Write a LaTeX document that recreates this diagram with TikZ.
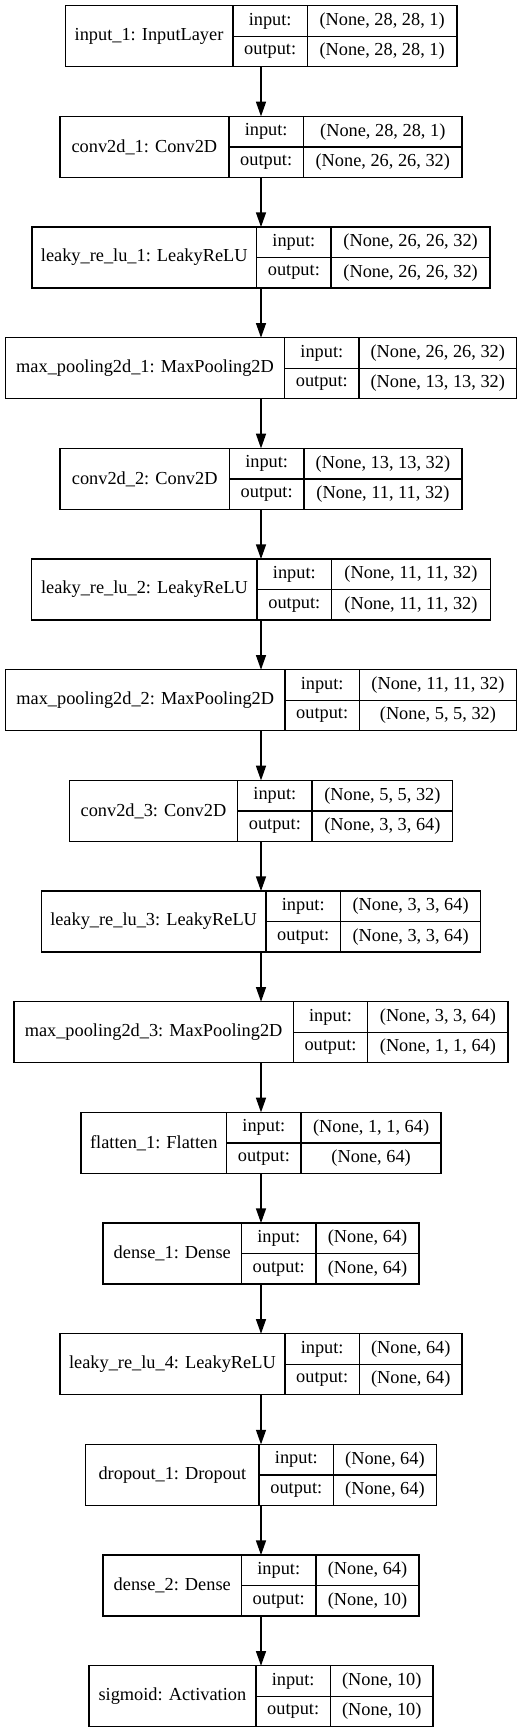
\documentclass[tikz,border=0pt]{standalone}
\usepackage{fontspec}
\setmainfont{Liberation Serif}
\usetikzlibrary{arrows.meta,positioning}
\tikzset{
  cell/.style={rectangle, draw=black, line width=1pt, inner sep=0pt, outer sep=0pt,
               align=center, font=\fontsize{13.75}{16}\selectfont},
  frame/.style={rectangle, inner sep=0pt, outer sep=0pt, minimum height=45.75pt},
  fl/.style={-{Triangle[length=11pt,width=7.5pt]}, draw=black, line width=1pt}
}
% one layer: id, centre y (px), name, name width, shape width, input, output
\newcommand{\layer}[7]{%
  \node[frame, minimum width={(#4+74.5+#5)*0.75pt}] (#1) at (261,#2) {};
  \node[cell, anchor=west, minimum width={#4*0.75pt}, minimum height=45.75pt] (#1n) at (#1.west) {#3};
  \node[cell, anchor=south west, minimum width=55.9pt, minimum height=22.875pt] (#1i) at (#1n.east) {input:};
  \node[cell, anchor=north west, minimum width=55.9pt, minimum height=22.875pt] (#1o) at (#1n.east) {output:};
  \node[cell, anchor=west, minimum width={#5*0.75pt}, minimum height=22.875pt] (#1is) at (#1i.east) {#6};
  \node[cell, anchor=west, minimum width={#5*0.75pt}, minimum height=22.875pt] (#1os) at (#1o.east) {#7};
}

\begin{document}
\begin{tikzpicture}[x=0.75pt, y=-0.75pt]
  \useasboundingbox (0,0) rectangle (523,1733);

  \layer{inp}{36.2}{input\_1: InputLayer}{167.7}{149.4}{(None, 28, 28, 1)}{(None, 28, 28, 1)}
  \layer{conva}{146.87}{conv2d\_1: Conv2D}{169}{158.7}{(None, 28, 28, 1)}{(None, 26, 26, 32)}
  \layer{lrelua}{257.54}{leaky\_re\_lu\_1: LeakyReLU}{224.7}{159}{(None, 26, 26, 32)}{(None, 26, 26, 32)}
  \layer{poola}{368.21}{max\_pooling2d\_1: MaxPooling2D}{279}{157.4}{(None, 26, 26, 32)}{(None, 13, 13, 32)}
  \layer{convb}{478.88}{conv2d\_2: Conv2D}{169.3}{158}{(None, 13, 13, 32)}{(None, 11, 11, 32)}
  \layer{lrelub}{589.55}{leaky\_re\_lu\_2: LeakyReLU}{225.3}{158.7}{(None, 11, 11, 32)}{(None, 11, 11, 32)}
  \layer{poolb}{700.22}{max\_pooling2d\_2: MaxPooling2D}{279.3}{157}{(None, 11, 11, 32)}{(None, 5, 5, 32)}
  \layer{convc}{810.89}{conv2d\_3: Conv2D}{168.3}{140.6}{(None, 5, 5, 32)}{(None, 3, 3, 64)}
  \layer{lreluc}{921.56}{leaky\_re\_lu\_3: LeakyReLU}{224.7}{140.3}{(None, 3, 3, 64)}{(None, 3, 3, 64)}
  \layer{poolc}{1032.23}{max\_pooling2d\_3: MaxPooling2D}{279.3}{140.3}{(None, 3, 3, 64)}{(None, 1, 1, 64)}
  \layer{flat}{1142.9}{flatten\_1: Flatten}{145.7}{140}{(None, 1, 1, 64)}{(None, 64)}
  \layer{densea}{1253.57}{dense\_1: Dense}{138.4}{103}{(None, 64)}{(None, 64)}
  \layer{lrelud}{1364.24}{leaky\_re\_lu\_4: LeakyReLU}{225}{102.7}{(None, 64)}{(None, 64)}
  \layer{drop}{1474.91}{dropout\_1: Dropout}{173.3}{102.7}{(None, 64)}{(None, 64)}
  \layer{denseb}{1585.58}{dense\_2: Dense}{138.4}{103}{(None, 64)}{(None, 10)}
  \layer{sigm}{1696.25}{sigmoid: Activation}{167}{102.7}{(None, 10)}{(None, 10)}

  \draw[fl] (inp) -- (conva);
  \draw[fl] (conva) -- (lrelua);
  \draw[fl] (lrelua) -- (poola);
  \draw[fl] (poola) -- (convb);
  \draw[fl] (convb) -- (lrelub);
  \draw[fl] (lrelub) -- (poolb);
  \draw[fl] (poolb) -- (convc);
  \draw[fl] (convc) -- (lreluc);
  \draw[fl] (lreluc) -- (poolc);
  \draw[fl] (poolc) -- (flat);
  \draw[fl] (flat) -- (densea);
  \draw[fl] (densea) -- (lrelud);
  \draw[fl] (lrelud) -- (drop);
  \draw[fl] (drop) -- (denseb);
  \draw[fl] (denseb) -- (sigm);
\end{tikzpicture}
\end{document}
